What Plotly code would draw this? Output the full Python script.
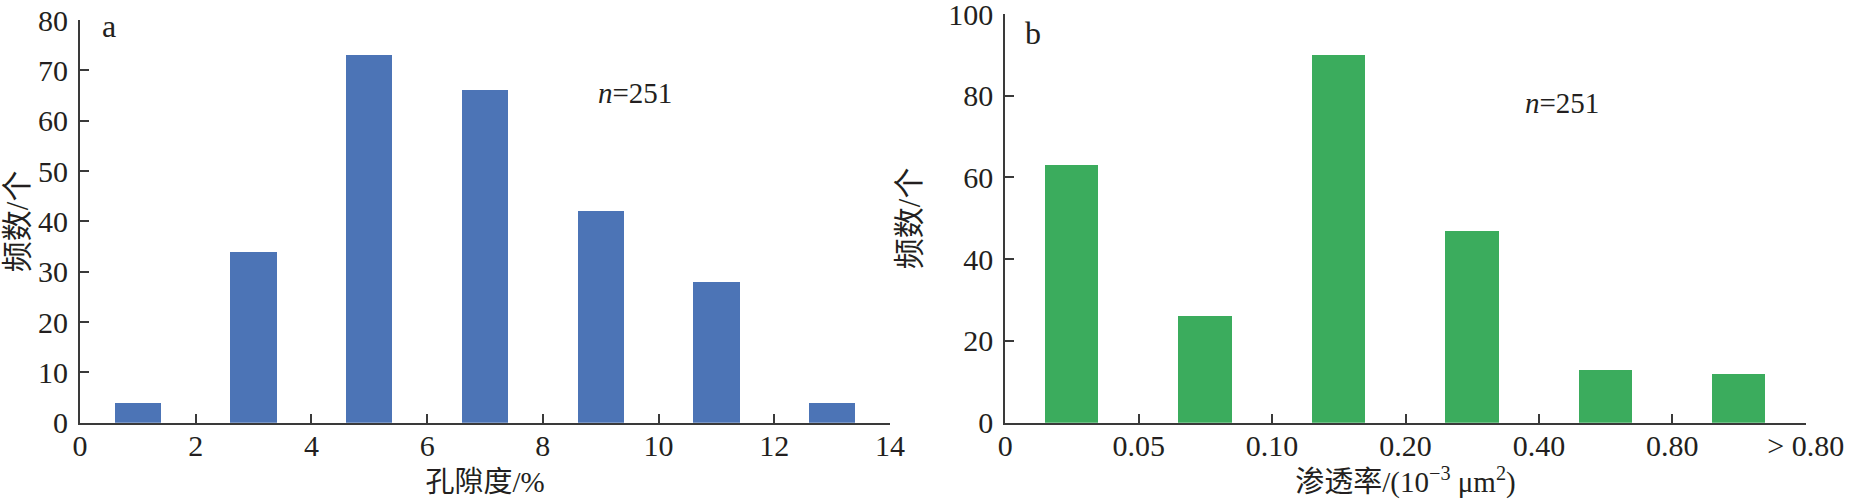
import plotly.graph_objects as go

# ---------------- data ----------------
porosity_bin_centers = [1, 3, 5, 7, 9, 11, 13]
porosity_counts = [4, 34, 73, 66, 42, 28, 4]
porosity_ticks = [0, 2, 4, 6, 8, 10, 12, 14]
porosity_yticks = [0, 10, 20, 30, 40, 50, 60, 70, 80]

perm_bin_index = [0, 1, 2, 3, 4, 5]
perm_counts = [63, 26, 90, 47, 13, 12]
perm_tick_labels = ["0", "0.05", "0.10", "0.20", "0.40", "0.80", "> 0.80"]
perm_yticks = [0, 20, 40, 60, 80, 100]

sample_label = "<i>n</i>=251"
panel_labels = ["a", "b"]

W, H = 1851, 499
FONT = "Liberation Serif, Noto Sans CJK SC, serif"
TXT = "#231f20"
AX = "#3a3a3a"
BLUE = "#4c74b6"
GREEN = "#3bac5d"

fig = go.Figure()
fig.add_trace(go.Bar(x=porosity_bin_centers, y=porosity_counts, width=0.8,
                     marker=dict(color=BLUE, line=dict(width=0)),
                     xaxis="x", yaxis="y", showlegend=False))
fig.add_trace(go.Bar(x=[i + 0.5 for i in perm_bin_index], y=perm_counts, width=0.4,
                     marker=dict(color=GREEN, line=dict(width=0)),
                     xaxis="x2", yaxis="y2", showlegend=False))

y0 = (H - 422.7) / H
axis_common = dict(showline=True, linecolor=AX, linewidth=2, ticks="inside",
                   ticklen=9, tickwidth=2, tickcolor=AX, showgrid=False,
                   zeroline=False, automargin=False, ticklabeloverflow="allow",
                   tickfont=dict(family=FONT, size=30, color=TXT))
xtitle_font = dict(family=FONT, size=29, color=TXT)
ytitle_font = dict(family=FONT, size=31, color=TXT)

fig.update_layout(
    width=W, height=H, margin=dict(l=0, r=0, t=0, b=0),
    paper_bgcolor="white", plot_bgcolor="white",
    font=dict(family=FONT, color=TXT),
    bargap=0,
    xaxis=dict(domain=[80 / W, 890 / W], range=[0, 14], tickvals=porosity_ticks,
               anchor="y", title=dict(text="孔隙度/%", standoff=11, font=xtitle_font),
               ticklabelstandoff=-5, **axis_common),
    yaxis=dict(domain=[y0, (H - 20) / H], range=[0, 80], tickvals=porosity_yticks,
               anchor="x", title=dict(text="频数/个", standoff=18, font=ytitle_font),
               ticklabelstandoff=4, **axis_common),
    xaxis2=dict(domain=[1005.3 / W, 1805.7 / W], range=[0, 6],
                tickvals=list(range(len(perm_tick_labels))), ticktext=perm_tick_labels,
                anchor="y2",
                title=dict(text="渗透率/(10<sup>−3</sup> μm<sup>2</sup>)", standoff=11, font=xtitle_font),
                ticklabelstandoff=-5, **axis_common),
    yaxis2=dict(domain=[y0, (H - 14) / H], range=[0, 100], tickvals=perm_yticks,
                anchor="x2", title=dict(text="频数/个", standoff=18, font=ytitle_font),
                ticklabelstandoff=4, **axis_common),
)

ann_font = dict(family=FONT, size=29, color=TXT)
fig.add_annotation(x=0.35, y=78.9, xref="x", yref="y", text=panel_labels[0],
                   showarrow=False, xanchor="left", yanchor="middle",
                   font=dict(family=FONT, size=32, color=TXT))
fig.add_annotation(x=8.92, y=65.4, xref="x", yref="y", text=sample_label,
                   showarrow=False, xanchor="left", yanchor="middle", font=ann_font)
fig.add_annotation(x=0.13, y=95.3, xref="x2", yref="y2", text=panel_labels[1],
                   showarrow=False, xanchor="left", yanchor="middle",
                   font=dict(family=FONT, size=32, color=TXT))
fig.add_annotation(x=3.88, y=78.2, xref="x2", yref="y2", text=sample_label,
                   showarrow=False, xanchor="left", yanchor="middle", font=ann_font)

fig.write_html("out.html", config={"displayModeBar": False},
               post_script="document.body.style.margin='0px';document.body.style.overflow='hidden';")
